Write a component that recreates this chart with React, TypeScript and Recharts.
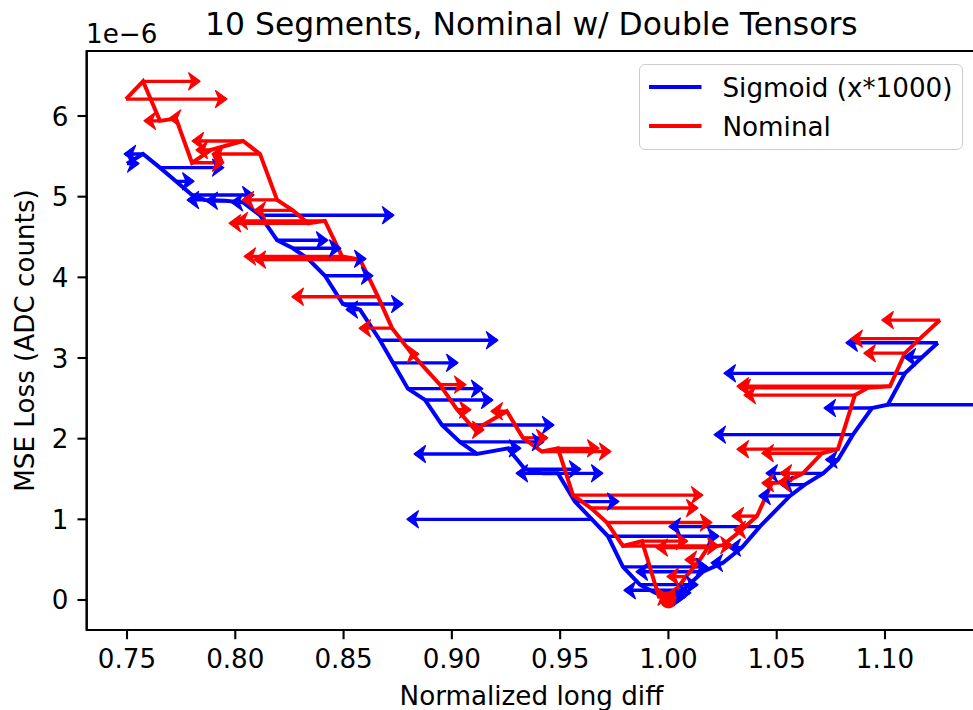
import React from 'react';
import { ComposedChart, Line, Scatter, XAxis, YAxis, ReferenceArea, Legend } from 'recharts';

// ---- data (loss values in units of 1e-6) ----
const xTicks = [0.75, 0.8, 0.85, 0.9, 0.95, 1.0, 1.05, 1.1];
const yTicks = [0, 1, 2, 3, 4, 5, 6];

const blueX = [0.7500, 0.7574, 0.7652, 0.7726, 0.7800, 0.7860, 0.7952, 0.8036, 0.8114, 0.8193, 0.8266, 0.8336, 0.8414, 0.8497, 0.8576, 0.8668, 0.8728, 0.8797, 0.8876, 0.8954, 0.9037, 0.9116, 0.9259, 0.9338, 0.9420, 0.9490, 0.9568, 0.9647, 0.9721, 0.9790, 0.9868, 0.9938, 0.9993, 1.0067, 1.0159, 1.0252, 1.0339, 1.0422, 1.0561, 1.0630, 1.0714, 1.0783, 1.0852, 1.0940, 1.1013, 1.1092, 1.1171, 1.1244];
const blueY = [5.41, 5.53, 5.36, 5.19, 5.02, 4.96, 4.95, 4.93, 4.77, 4.46, 4.36, 4.23, 4.02, 3.67, 3.60, 3.22, 2.94, 2.62, 2.48, 2.17, 1.96, 1.81, 1.88, 1.62, 1.57, 1.57, 1.22, 1.00, 0.79, 0.41, 0.19, 0.09, 0.04, 0.12, 0.35, 0.46, 0.65, 0.91, 1.29, 1.43, 1.57, 1.74, 2.05, 2.38, 2.42, 2.81, 3.01, 3.19];
const blueTip = [0.7551, 0.7491, 0.7943, 0.7805, 0.8082, 0.7782, 0.7869, 0.7985, 0.8728, 0.8423, 0.8483, 0.8599, 0.8631, 0.8770, 0.8516, 0.9208, 0.9024, 0.9139, 0.9185, 0.9467, 0.9420, 0.8830, 0.9314, 0.9591, 0.9693, 0.9301, 0.9767, 0.8797, 1.0229, 1.0178, 1.0132, 1.0099, 1.0076, 0.9799, 0.9855, 1.0201, 1.0284, 1.0007, 1.0422, 1.0524, 1.0455, 1.0730, 1.0215, 1.0723, 1.1600, 1.0261, 1.1092, 1.0824];

const redX = [0.7495, 0.7574, 0.7652, 0.7726, 0.7800, 0.7888, 0.8036, 0.8114, 0.8193, 0.8266, 0.8336, 0.8414, 0.8493, 0.8576, 0.8659, 0.8724, 0.8816, 0.8945, 0.9024, 0.9107, 0.9254, 0.9328, 0.9416, 0.9490, 0.9559, 0.9642, 0.9716, 0.9790, 0.9878, 0.9956, 1.0016, 1.0081, 1.0146, 1.0182, 1.0252, 1.0339, 1.0409, 1.0478, 1.0538, 1.0621, 1.0709, 1.0783, 1.0861, 1.0921, 1.1023, 1.1092, 1.1161, 1.1254];
const redY = [6.21, 6.43, 5.94, 5.97, 5.42, 5.58, 5.69, 5.53, 4.96, 4.83, 4.67, 4.70, 4.26, 4.22, 3.76, 3.37, 3.05, 2.67, 2.36, 2.11, 2.34, 2.01, 1.84, 1.88, 1.30, 1.14, 0.96, 0.67, 0.73, 0.04, 0.05, 0.29, 0.50, 0.65, 0.68, 0.87, 1.04, 1.45, 1.46, 1.57, 1.82, 1.87, 2.54, 2.63, 2.65, 3.06, 3.24, 3.47];
const redTip = [0.7957, 0.7833, 0.7583, 0.7699, 0.7943, 0.7823, 0.7805, 0.7897, 0.8036, 0.8091, 0.7976, 0.8008, 0.8045, 0.8091, 0.8266, 0.8576, 0.8843, 0.9061, 0.9084, 0.9144, 0.9185, 0.9439, 0.9730, 0.9675, 1.0155, 1.0132, 1.0196, 1.0229, 1.0085, 1.0000, 0.9984, 0.9998, 1.0081, 0.9947, 1.0290, 1.0307, 1.0298, 1.0436, 1.0510, 1.0520, 1.0436, 1.0321, 1.0353, 1.0330, 1.0321, 1.0907, 1.0847, 1.0990];

const minPoint = [{ x: 1.0, y: 0.0 }];

const seriesNames = ['Sigmoid (x*1000)', 'Nominal'];
const seriesColors = ['#0000ff', '#ff0000'];

const X_DOMAIN: [number, number] = [0.73139, 1.14202];
const Y_DOMAIN: [number, number] = [-0.372, 6.806];

const FONT = 'DejaVu Sans, sans-serif';
const FS = 26.2;

const toPath = (xs: number[], ys: number[]) => xs.map((x, i) => ({ x, y: ys[i] }));
const toArrows = (xs: number[], ys: number[], tips: number[]) =>
  xs.map((x, i) => ({ dir: tips[i] >= x ? 1 : -1, data: [{ x, y: ys[i] }, { x: tips[i], y: ys[i] }] }));

const bluePath = toPath(blueX, blueY);
const redPath = toPath(redX, redY);
const blueArrows = toArrows(blueX, blueY, blueTip);
const redArrows = toArrows(redX, redY, redTip);

const makeHead = (dir: number, color: string) => (props: any) => {
  const { cx, cy, index } = props;
  if (index !== 1 || cx == null || cy == null) return <g key={`h${index}`} />;
  const L = 10.5, W = 8.5, N = 7;
  const pts = `${cx + dir * 1},${cy} ${cx - dir * L},${cy - W} ${cx - dir * N},${cy} ${cx - dir * L},${cy + W}`;
  return <polygon key={`h${index}`} points={pts} fill={color} stroke={color} strokeWidth={1.2} strokeLinejoin="round" />;
};

const XTick = (props: any) => {
  const { x, payload } = props;
  return (
    <text x={x} y={668} textAnchor="middle" fontSize={FS} fontFamily={FONT} fill="#000">
      {Number(payload.value).toFixed(2)}
    </text>
  );
};

const YTick = (props: any) => {
  const { y, payload } = props;
  return (
    <text x={68.3} y={y + 9.5} textAnchor="end" fontSize={FS} fontFamily={FONT} fill="#000">
      {payload.value}
    </text>
  );
};

const LegendBox = () => (
  <div
    style={{
      width: 324,
      height: 86,
      boxSizing: 'border-box',
      border: '1.5px solid #cccccc',
      borderRadius: 6,
      background: 'rgba(255,255,255,0.8)',
    }}
  >
    <svg width={321} height={83} style={{ display: 'block' }}>
      {seriesNames.map((name, i) => (
        <g key={name}>
          <line x1={9} x2={61.5} y1={22 + i * 39} y2={22 + i * 39} stroke={seriesColors[i]} strokeWidth={3.9} />
          <text x={82.5} y={31.5 + i * 39} fontSize={FS} fontFamily={FONT} fill="#000">
            {name}
          </text>
        </g>
      ))}
    </svg>
  </div>
);

export default function App() {
  return (
    <div
      style={{
        position: 'fixed',
        left: 0,
        top: 0,
        width: 973,
        height: 710,
        overflow: 'hidden',
        background: '#ffffff',
      }}
    >
      <div style={{ position: 'relative', width: 1000, height: 730 }}>
        <ComposedChart
          width={1000}
          height={730}
          margin={{ top: 51, right: 24, bottom: 40, left: 26.7 }}
        >
          <XAxis
            type="number"
            dataKey="x"
            domain={X_DOMAIN}
            allowDataOverflow
            ticks={xTicks}
            interval={0}
            height={60}
            tickSize={9.2}
            tickMargin={0}
            tick={<XTick />}
            tickLine={{ stroke: '#000', strokeWidth: 2.1 }}
            axisLine={{ stroke: '#000', strokeWidth: 2.1 }}
          />
          <YAxis
            type="number"
            domain={Y_DOMAIN}
            allowDataOverflow
            ticks={yTicks}
            interval={0}
            width={60}
            tickSize={9.2}
            tickMargin={0}
            tick={<YTick />}
            tickLine={{ stroke: '#000', strokeWidth: 2.1 }}
            axisLine={{ stroke: '#000', strokeWidth: 2.1 }}
          />
          <Line
            data={bluePath}
            dataKey="y"
            type="linear"
            stroke={seriesColors[0]}
            strokeWidth={4}
            dot={false}
            activeDot={false}
            isAnimationActive={false}
            name={seriesNames[0]}
          />
          {blueArrows.map((a, i) => (
            <Line
              key={`ba${i}`}
              data={a.data}
              dataKey="y"
              type="linear"
              stroke={seriesColors[0]}
              strokeWidth={3.4}
              dot={makeHead(a.dir, seriesColors[0])}
              activeDot={false}
              isAnimationActive={false}
              legendType="none"
            />
          ))}
          <Line
            data={redPath}
            dataKey="y"
            type="linear"
            stroke={seriesColors[1]}
            strokeWidth={4}
            dot={false}
            activeDot={false}
            isAnimationActive={false}
            name={seriesNames[1]}
          />
          {redArrows.map((a, i) => (
            <Line
              key={`ra${i}`}
              data={a.data}
              dataKey="y"
              type="linear"
              stroke={seriesColors[1]}
              strokeWidth={3.4}
              dot={makeHead(a.dir, seriesColors[1])}
              activeDot={false}
              isAnimationActive={false}
              legendType="none"
            />
          ))}
          <Scatter
            data={minPoint}
            dataKey="y"
            fill="#ff0000"
            isAnimationActive={false}
            shape={(p: any) => <circle cx={p.cx} cy={p.cy} r={8.5} fill="#ff0000" />}
          />
          <ReferenceArea
            x1={X_DOMAIN[0]}
            x2={X_DOMAIN[1]}
            y1={Y_DOMAIN[0]}
            y2={Y_DOMAIN[1]}
            fill="none"
            fillOpacity={0}
            stroke="#000"
            strokeWidth={2.1}
            ifOverflow="visible"
          />
          <Legend
            layout="vertical"
            align="center"
            verticalAlign="middle"
            content={() => <LegendBox />}
            wrapperStyle={{ left: 639, top: 64, width: 324, height: 86, margin: 0 }}
          />
        </ComposedChart>
        <svg
          width={1000}
          height={730}
          style={{ position: 'absolute', left: 0, top: 0, pointerEvents: 'none' }}
        >
          <text x={531.4} y={35.3} textAnchor="middle" fontSize={31.4} fontFamily={FONT} fill="#000">
            10 Segments, Nominal w/ Double Tensors
          </text>
          <text x={86} y={43} textAnchor="start" fontSize={FS} fontFamily={FONT} fill="#000">
            1e−6
          </text>
          <text x={531.4} y={705} textAnchor="middle" fontSize={FS} fontFamily={FONT} fill="#000">
            Normalized long diff
          </text>
          <text
            x={0}
            y={0}
            transform="translate(34,340.5) rotate(-90)"
            textAnchor="middle"
            fontSize={FS}
            fontFamily={FONT}
            fill="#000"
          >
            MSE Loss (ADC counts)
          </text>
        </svg>
      </div>
    </div>
  );
}
